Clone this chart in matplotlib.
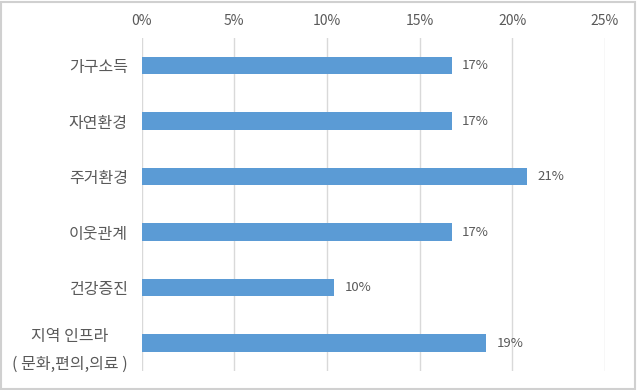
import matplotlib.pyplot as plt
from matplotlib.patches import Rectangle

plt.rcParams['font.family'] = ['Noto Sans CJK KR', 'DejaVu Sans']

categories = ['가구소득', '자연환경', '주거환경', '이웃관계', '건강증진', '지역 인프라\n( 문화,편의,의료 )']
values = [16.75, 16.75, 20.8, 16.75, 10.4, 18.6]
labels = ['17%', '17%', '21%', '17%', '10%', '19%']
ticks = [0, 5, 10, 15, 20, 25]
tick_labels = ['0%', '5%', '10%', '15%', '20%', '25%']

text_color = '#595959'

fig = plt.figure(figsize=(6.38, 3.9), dpi=100)
ax = fig.add_axes([0.222, 0.049, 0.726, 0.854])

y = list(range(len(categories)))
ax.barh(y, values, height=0.315, color='#5B9BD5', zorder=3)
for yi, v, lab in zip(y, values, labels):
    ax.text(v + 0.55, yi, lab, va='center', ha='left', fontsize=9.5, color=text_color)

ax.set_xlim(0, 25)
ax.set_ylim(len(categories) - 0.5, -0.5)
ax.set_yticks(y)
ax.set_yticklabels(categories, fontsize=11.5, color=text_color, linespacing=1.8,
                   multialignment='center')
ax.set_xticks(ticks)
ax.set_xticklabels(tick_labels, fontsize=10, color=text_color)
ax.xaxis.tick_top()
ax.tick_params(axis='both', length=0)
ax.tick_params(axis='x', pad=7)
ax.tick_params(axis='y', pad=10)
ax.grid(axis='x', color='#D9D9D9', linewidth=1, zorder=0)
for s in ax.spines.values():
    s.set_visible(False)

fig.patches.append(Rectangle((0.002, 0.003), 0.994, 0.993, transform=fig.transFigure,
                             fill=False, edgecolor='#D0D0D0', linewidth=1.5))

fig.savefig('out.png', dpi=100)
